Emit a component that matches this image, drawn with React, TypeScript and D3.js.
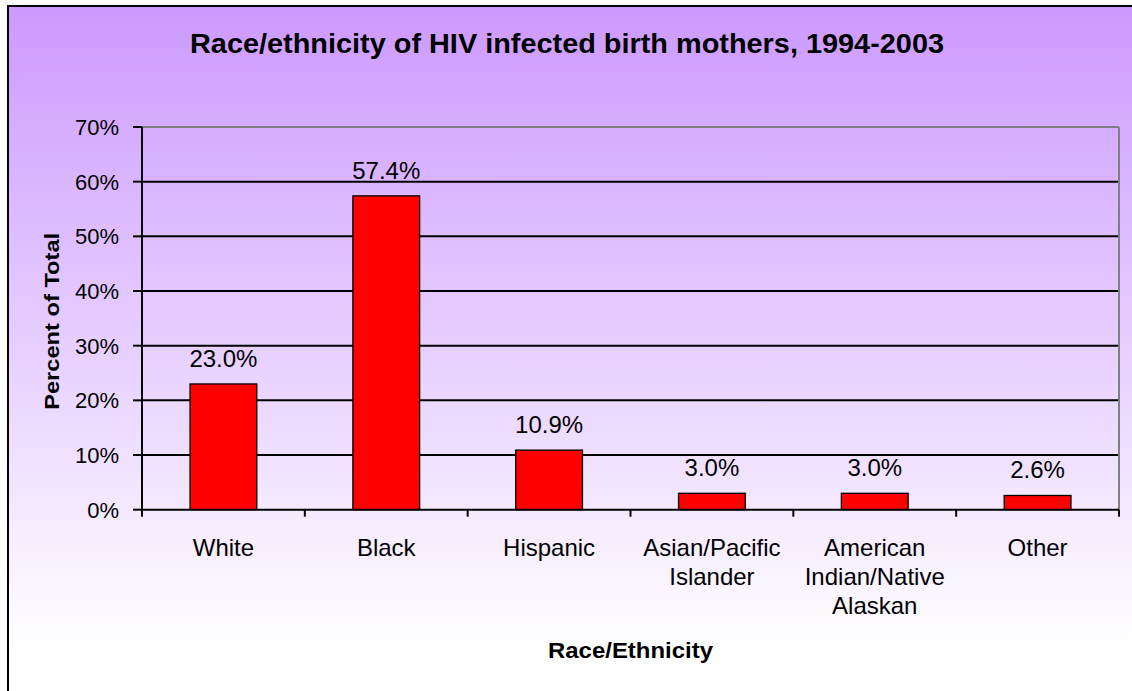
import React from "react";
import * as d3 from "d3";

const categories: string[][] = [
  ["White"],
  ["Black"],
  ["Hispanic"],
  ["Asian/Pacific", "Islander"],
  ["American", "Indian/Native", "Alaskan"],
  ["Other"],
];
const values: number[] = [0.23, 0.574, 0.109, 0.03, 0.03, 0.026];
const valueLabels: string[] = ["23.0%", "57.4%", "10.9%", "3.0%", "3.0%", "2.6%"];
const yTicks: number[] = [0, 0.1, 0.2, 0.3, 0.4, 0.5, 0.6, 0.7];

const title = "Race/ethnicity of HIV infected birth mothers, 1994-2003";
const xTitle = "Race/Ethnicity";
const yTitle = "Percent of Total";

const W = 1132;
const H = 691;
const FONT = "'Liberation Sans', Arial, Helvetica, sans-serif";

export default function App() {
  const left = 142;
  const right = 1119;
  const top = 127;
  const bottom = 509.7;

  const keys = categories.map((c) => c.join(" "));
  const y = d3.scaleLinear().domain([0, 0.7]).range([bottom, top]);
  const band = d3.scaleBand<string>().domain(keys).range([left, right]).padding(0);
  const barX = d3
    .scaleBand<string>()
    .domain(keys)
    .range([left, right])
    .paddingInner(0.59)
    .paddingOuter(0.295);
  const step = band.step();
  const boundaries = d3.range(keys.length + 1).map((i) => left + i * step);

  return (
    <svg
      width={W}
      height={H}
      style={{ position: "absolute", left: 0, top: 0, display: "block" }}
    >
      <defs>
        <linearGradient id="bg" gradientUnits="userSpaceOnUse" x1="0" y1="5" x2="0" y2="648">
          <stop offset="0" stopColor="#CC99FF" />
          <stop offset="1" stopColor="#FFFFFF" />
        </linearGradient>
      </defs>
      <rect x={0} y={0} width={W} height={H} fill="#FFFFFF" />
      <rect x={8} y={6} width={W + 20} height={H + 20} fill="url(#bg)" />
      <rect x={8} y={6} width={W + 20} height={H + 20} fill="none" stroke="#000" strokeWidth={2} />

      <text
        x={567}
        y={53}
        textAnchor="middle"
        fontFamily={FONT}
        fontWeight="bold"
        fontSize={27}
        textLength={754}
        lengthAdjust="spacingAndGlyphs"
        fill="#000"
      >
        {title}
      </text>

      {/* grid lines */}
      {yTicks.slice(1, -1).map((t) => (
        <line key={t} x1={left} x2={right} y1={y(t)} y2={y(t)} stroke="#000" strokeWidth={2} />
      ))}
      {/* top and right plot border */}
      <line x1={left} x2={right} y1={y(0.7)} y2={y(0.7)} stroke="#808080" strokeWidth={2} />
      <line x1={right} x2={right} y1={y(0.7)} y2={bottom} stroke="#808080" strokeWidth={2} />

      {/* bars */}
      {keys.map((k, i) => (
        <rect
          key={k}
          x={barX(k)!}
          y={y(values[i])}
          width={barX.bandwidth()}
          height={bottom - y(values[i])}
          fill="#FF0000"
          stroke="#000"
          strokeWidth={1.3}
        />
      ))}

      {/* value labels */}
      {keys.map((k, i) => (
        <text
          key={k}
          x={band(k)! + step / 2}
          y={y(values[i]) - 17}
          textAnchor="middle"
          fontFamily={FONT}
          fontSize={24}
          fill="#000"
        >
          {valueLabels[i]}
        </text>
      ))}

      {/* y axis */}
      <line x1={left} x2={left} y1={top} y2={bottom} stroke="#000" strokeWidth={2} />
      {yTicks.map((t) => (
        <g key={t}>
          <line x1={133} x2={left} y1={y(t)} y2={y(t)} stroke="#000" strokeWidth={2} />
          <text
            x={119}
            y={y(t) + 8}
            textAnchor="end"
            fontFamily={FONT}
            fontSize={22}
            fill="#000"
          >
            {d3.format(".0%")(t)}
          </text>
        </g>
      ))}

      {/* x axis */}
      <line x1={left} x2={right} y1={bottom} y2={bottom} stroke="#000" strokeWidth={2} />
      {boundaries.map((bx, i) => (
        <line key={i} x1={bx} x2={bx} y1={bottom} y2={bottom + 7} stroke="#000" strokeWidth={2} />
      ))}
      {keys.map((k, i) => (
        <text
          key={k}
          textAnchor="middle"
          fontFamily={FONT}
          fontSize={24}
          fill="#000"
        >
          {categories[i].map((line, j) => (
            <tspan key={j} x={band(k)! + step / 2} y={556 + j * 29}>
              {line}
            </tspan>
          ))}
        </text>
      ))}

      {/* axis titles */}
      <text
        x={(left + right) / 2}
        y={658}
        textAnchor="middle"
        fontFamily={FONT}
        fontWeight="bold"
        fontSize={22}
        textLength={165}
        lengthAdjust="spacingAndGlyphs"
        fill="#000"
      >
        {xTitle}
      </text>
      <text
        transform={`translate(59, ${(top + bottom) / 2 + 3}) rotate(-90)`}
        textAnchor="middle"
        fontFamily={FONT}
        fontWeight="bold"
        fontSize={21}
        textLength={177}
        lengthAdjust="spacingAndGlyphs"
        fill="#000"
      >
        {yTitle}
      </text>
    </svg>
  );
}
